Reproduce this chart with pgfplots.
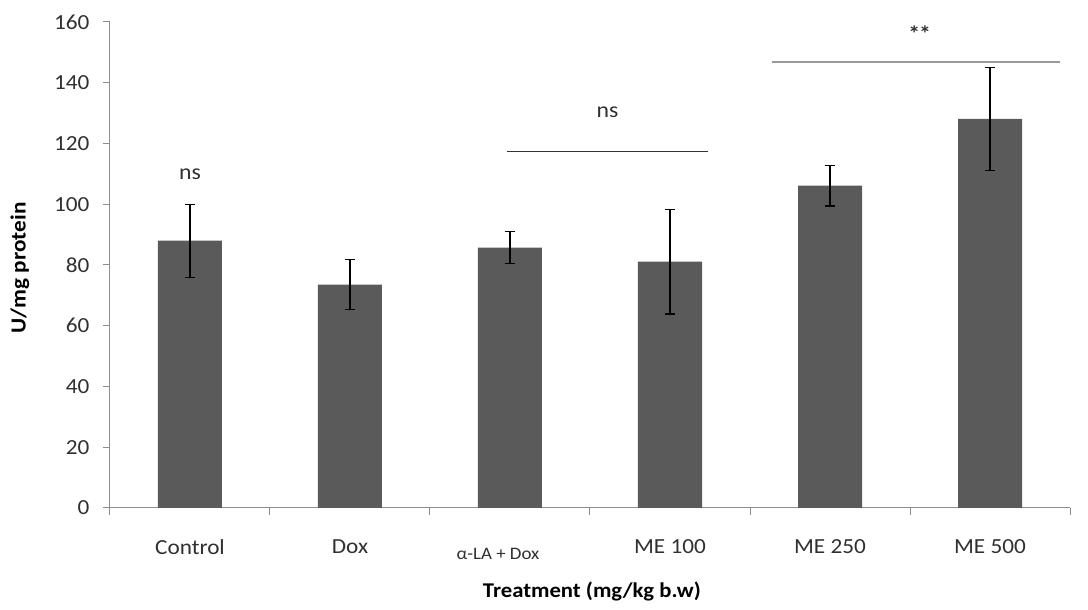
\documentclass[border=0pt]{standalone}
\usepackage{fontspec}
\setmainfont{Carlito}[FakeStretch=1.08]
\usepackage{pgfplots}
\pgfplotsset{compat=1.18}
\definecolor{barc}{HTML}{5A5A5A}
\definecolor{axc}{HTML}{8C8C8C}
\definecolor{txt}{HTML}{303030}
\begin{document}
\begin{tikzpicture}
\begin{axis}[
  at={(0,0)}, anchor=south west,
  scale only axis, width=960pt, height=486pt,
  xmin=-0.5, xmax=5.5, ymin=0, ymax=160,
  clip=false,
  axis x line*=bottom, axis y line*=left,
  axis line style={axc, line width=1pt},
  ytick={0,20,...,160},
  xtick={0,1,2,3,4,5},
  xticklabels={Control,Dox,{\fontsize{17.5}{18}\selectfont\rule{0pt}{20pt}\makebox[0pt]{α-LA + Dox\hspace*{24pt}}},ME 100,ME 250,ME 500},
  minor xtick={-0.5,0.5,1.5,2.5,3.5,4.5,5.5},
  major x tick style={draw=none},
  minor x tick style={axc, line width=1pt},
  y tick style={axc, line width=1pt},
  tick align=outside,
  major tick length=7pt, minor tick length=7pt,
  ticklabel style={font=\fontsize{21.5}{24}\selectfont, text=txt},
  /pgf/number format/assume math mode=true,
  xticklabel shift=21pt,
  yticklabel shift=10pt,
  every axis y label/.style={at={(axis description cs:-0.09375,0.494)}, rotate=90, anchor=center, font=\fontsize{21.5}{24}\selectfont\bfseries, text=black},
  every axis x label/.style={at={(axis description cs:0.502,-0.1728)}, anchor=center, font=\fontsize{21}{24}\selectfont\bfseries, text=black},
  ylabel={U/mg protein},
  xlabel={Treatment (mg/kg b.w)},
]
\addplot[ybar, bar width=0.4, fill=barc, draw=none,
  error bars/.cd, y dir=both, y explicit,
  error bar style={black, line width=1.2pt},
  error mark options={rotate=90, black, mark size=5pt, line width=1.2pt}]
coordinates {
  (0,88) +- (0,12)
  (1,73.5) +- (0,8.2)
  (2,85.7) +- (0,5.2)
  (3,81.1) +- (0,17.2)
  (4,106.1) +- (0,6.7)
  (5,128.1) +- (0,16.9)
};
\draw[black!80, line width=1.1pt] (axis cs:1.98,117.5) -- (axis cs:3.24,117.5);
\draw[black!40, line width=2.2pt] (axis cs:3.635,146.8) -- (axis cs:5.44,146.8);
\node[anchor=base, font=\fontsize{22}{24}\selectfont, text=txt] at (axis cs:0,108.3) {ns};
\node[anchor=base, font=\fontsize{22}{24}\selectfont, text=txt] at (axis cs:2.61,128.4) {ns};
\node[anchor=base, font=\fontsize{22}{24}\selectfont\bfseries, text=txt, inner xsep=0pt] at (axis cs:4.56,153.6) {*\kern-1pt*};
\end{axis}
\path (-110pt,-102pt) rectangle (978pt,508pt);
\end{tikzpicture}
\end{document}
